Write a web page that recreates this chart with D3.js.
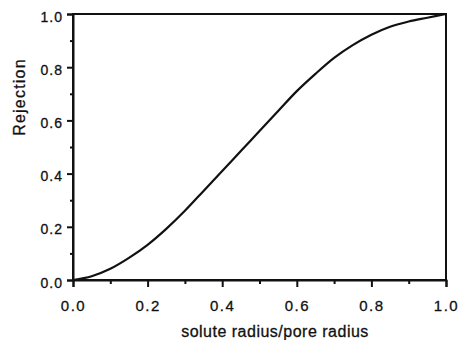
<!DOCTYPE html>
<html>
<head>
<meta charset="utf-8">
<script src="https://cdn.jsdelivr.net/npm/d3@7"></script>
<style>
  body { margin: 0; background: #fff; }
  svg { display: block; }
  text { font-family: "Liberation Sans", Arial, sans-serif; fill: #111; stroke: #111; stroke-width: 0.3px; }
</style>
</head>
<body>
<svg id="chart" width="459" height="340"></svg>
<script>
// solute radius / pore radius
var ratio     = [0, 0.05, 0.1, 0.15, 0.2, 0.25, 0.3, 0.35, 0.4, 0.45, 0.5, 0.55, 0.6, 0.65, 0.7, 0.75, 0.8, 0.85, 0.9, 0.95, 1.0];
// rejection
var rejection = [0, 0.014, 0.042, 0.083, 0.132, 0.192, 0.26, 0.335, 0.41, 0.485, 0.56, 0.635, 0.71, 0.775, 0.835, 0.883, 0.922, 0.952, 0.972, 0.986, 1.0];

var xTicks = [0, 0.2, 0.4, 0.6, 0.8, 1.0];
var yTicks = [0, 0.2, 0.4, 0.6, 0.8, 1.0];
var minorTicks = [0.1, 0.3, 0.5, 0.7, 0.9];

var data = ratio.map(function(d, i) { return {x: d, y: rejection[i]}; });

var margin = {top: 14, right: 13, bottom: 60, left: 73};
var width = 459 - margin.left - margin.right;
var height = 340 - margin.top - margin.bottom;

var svg = d3.select("#chart");
var g = svg.append("g")
    .attr("transform", "translate(" + margin.left + "," + margin.top + ")");

var x = d3.scaleLinear().domain([0, 1]).range([0, width]);
var y = d3.scaleLinear().domain([0, 1]).range([height, 0]);

// frame
g.append("rect")
    .attr("width", width)
    .attr("height", height)
    .attr("fill", "none")
    .attr("stroke", "#111")
    .attr("stroke-width", 2);

// x axis
var gx = g.append("g")
    .attr("transform", "translate(0," + height + ")")
    .call(d3.axisBottom(x).tickValues(xTicks).tickFormat(d3.format(".1f")).tickSize(7).tickPadding(13));
g.append("g")
    .attr("transform", "translate(0," + height + ")")
    .call(d3.axisBottom(x).tickValues(minorTicks).tickFormat("").tickSize(4))
    .select(".domain").remove();

// y axis
var gy = g.append("g")
    .call(d3.axisLeft(y).tickValues(yTicks).tickFormat(d3.format(".1f")).tickSize(6).tickPadding(4));
g.append("g")
    .call(d3.axisLeft(y).tickValues(minorTicks).tickFormat("").tickSize(3))
    .select(".domain").remove();

g.selectAll(".domain").attr("stroke", "#111").attr("stroke-width", 2);
g.selectAll(".tick line").attr("stroke", "#111").attr("stroke-width", 2);
gx.selectAll(".tick text")
    .style("font-size", "15px")
    .style("letter-spacing", "1.5px")
    .attr("fill", "#111");
gy.selectAll(".tick text")
    .style("font-size", "14px")
    .style("letter-spacing", "1px")
    .attr("dy", "0.5em")
    .attr("fill", "#111");

// curve
var line = d3.line()
    .x(function(d) { return x(d.x); })
    .y(function(d) { return y(d.y); })
    .curve(d3.curveMonotoneX);

g.append("path")
    .datum(data)
    .attr("fill", "none")
    .attr("stroke", "#111")
    .attr("stroke-width", 2.2)
    .attr("stroke-linejoin", "round")
    .attr("d", line);

// titles
svg.append("text")
    .text("solute radius/pore radius")
    .attr("x", 275)
    .attr("y", 337)
    .attr("text-anchor", "middle")
    .style("font-size", "16px")
    .style("letter-spacing", "0.5px");

svg.append("text")
    .text("Rejection")
    .attr("transform", "translate(25,97)rotate(-90)")
    .attr("text-anchor", "middle")
    .style("font-size", "16px")
    .style("letter-spacing", "1.2px");
</script>
</body>
</html>
